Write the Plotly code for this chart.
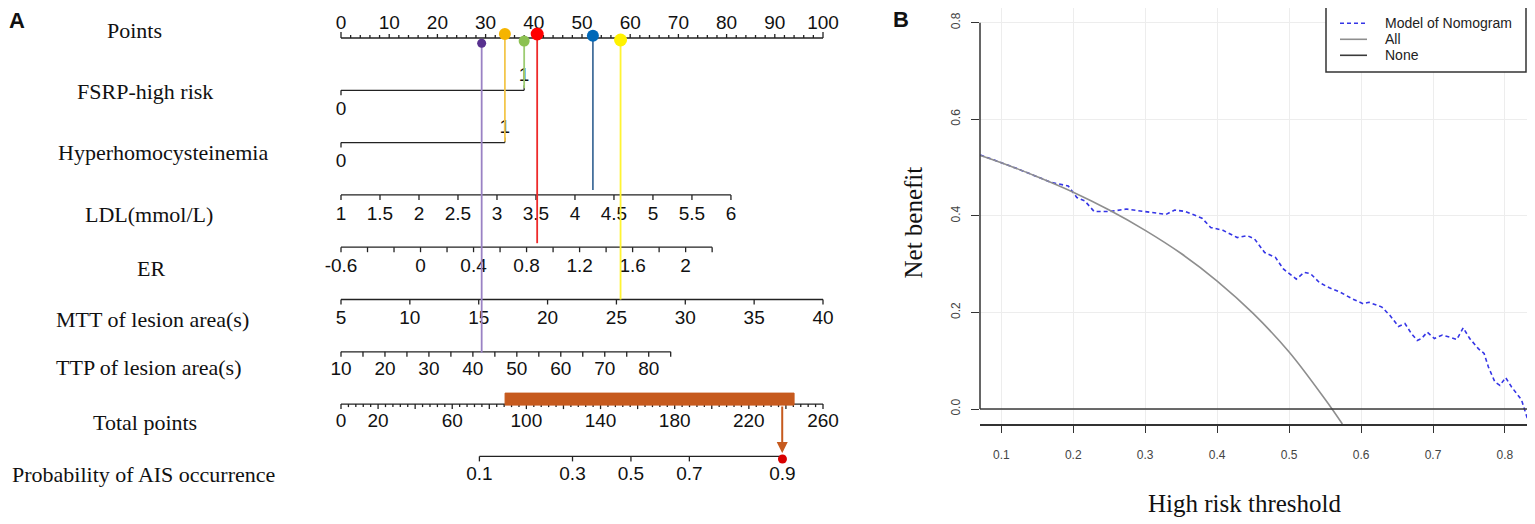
import numpy as np
import plotly.graph_objects as go

# ---------------- Panel A: nomogram ----------------
row_names = ["Points", "FSRP-high risk", "Hyperhomocysteinemia", "LDL(mmol/L)", "ER",
             "MTT of lesion area(s)", "TTP of lesion area(s)", "Total points",
             "Probability of AIS occurrence"]

points_labels = [0, 10, 20, 30, 40, 50, 60, 70, 80, 90, 100]

fsrp_levels = ["0", "1"]
fsrp_points = [0, 38]
hhcy_levels = ["0", "1"]
hhcy_points = [0, 34]

ldl_ticks = [1, 1.5, 2, 2.5, 3, 3.5, 4, 4.5, 5, 5.5, 6]
ldl_labels = ["1", "1.5", "2", "2.5", "3", "3.5", "4", "4.5", "5", "5.5", "6"]
ldl_points = [0, 80.9]          # points at LDL = 1 and 6

er_ticks = [-0.6, -0.4, -0.2, 0, 0.2, 0.4, 0.6, 0.8, 1.0, 1.2, 1.4, 1.6, 1.8, 2.0, 2.2]
er_labels = [-0.6, 0, 0.4, 0.8, 1.2, 1.6, 2]
er_points = [0, 77.0]           # points at ER = -0.6 and 2.2

mtt_ticks = [5, 10, 15, 20, 25, 30, 35, 40]
mtt_points = [0, 100]

ttp_ticks = [10, 15, 20, 25, 30, 35, 40, 45, 50, 55, 60, 65, 70, 75, 80, 85]
ttp_labels = [10, 20, 30, 40, 50, 60, 70, 80]
ttp_points = [0, 68.4]          # points at TTP = 10 and 85

total_labels = [0, 20, 60, 100, 140, 180, 220, 260]
total_max = 260

prob_ticks = [0.1, 0.3, 0.5, 0.7, 0.9]
prob_total_at_half = 156.4      # total points where p = 0.5
prob_total_per_logit = 37.2

# example patient drawn on the nomogram
case_fsrp = 1
case_hhcy = 1
case_ldl = 4.23
case_er = 0.88
case_mtt = 25.3
case_ttp = 42
case_total_range = [88.5, 244.4]
case_total = 238
case_prob = 0.9

# ---------------- Panel B: decision curve ----------------
thr_ticks = [0.1, 0.2, 0.3, 0.4, 0.5, 0.6, 0.7, 0.8]
nb_ticks = [0.0, 0.2, 0.4, 0.6, 0.8]

model_x = [0.071, 0.12, 0.170, 0.193, 0.205, 0.216, 0.229, 0.251, 0.274, 0.303, 0.329, 0.341,
           0.356, 0.379, 0.391, 0.408, 0.428, 0.442, 0.452, 0.466, 0.481, 0.492, 0.510, 0.521,
           0.530, 0.542, 0.556, 0.571, 0.588, 0.603, 0.611, 0.629, 0.640, 0.652, 0.661, 0.670,
           0.678, 0.684, 0.692, 0.702, 0.713, 0.725, 0.733, 0.742, 0.751, 0.763, 0.771, 0.777,
           0.786, 0.793, 0.801, 0.809, 0.818, 0.823, 0.831]
model_y = [0.526, 0.499, 0.469, 0.462, 0.438, 0.431, 0.409, 0.409, 0.414, 0.409, 0.403, 0.412,
           0.409, 0.395, 0.376, 0.370, 0.355, 0.359, 0.352, 0.324, 0.314, 0.290, 0.269, 0.283,
           0.280, 0.262, 0.251, 0.242, 0.228, 0.218, 0.221, 0.211, 0.194, 0.171, 0.177, 0.156,
           0.142, 0.146, 0.159, 0.146, 0.153, 0.148, 0.144, 0.168, 0.146, 0.125, 0.115, 0.087,
           0.056, 0.049, 0.065, 0.046, 0.029, 0.019, -0.019]

all_x = [0.071, 0.1, 0.15, 0.2, 0.25, 0.3, 0.35, 0.4, 0.45, 0.5, 0.55, 0.574]
all_y = [0.525, 0.510, 0.481, 0.449, 0.412, 0.370, 0.322, 0.265, 0.198, 0.118, 0.020, -0.031]

none_x = [0.05, 0.9]
none_y = [0, 0]

legend_names = ["Model of Nomogram", "All", "None"]

# page body adds an 8px margin, so the figure is 8px smaller and all
# positions below are given in window pixels and shifted by OFF
OFF = 8
W, H = 1535 - OFF, 524 - OFF
PX = 52.3                                    # pixels per nomogram row
PPT = 4.82                                   # pixels per nomogram point
NBPX = 482.9                                 # pixels per unit of net benefit
SANS = "Liberation Sans, Arial, sans-serif"
SERIF = "Liberation Serif, Times New Roman, serif"
AX = "#222222"
BROWN = "#C65A1E"
BLUE = "#3535E6"
GREY = "#8E8E8E"
DARK = "#3A3A3A"
X2_RANGE = [0.0704, 0.8348]
X2_PX = [980, 1530]
Y2_ZERO_PX = 409                             # window row of net benefit 0
Y2_PX = [8, 424]                             # window rows of panel B plot area


def pxx(X):
    return (X - OFF) / W


def pxy(Y):
    return 1 - (Y - OFF) / H


def dy(px):
    return px / PX


def nb_at(Y):
    return (Y2_ZERO_PX - Y) / NBPX


def lin(v, v0, v1, p0, p1):
    return p0 + (np.asarray(v, float) - v0) * (p1 - p0) / (v1 - v0)


def segs(x0, x1, row, ticks, lens):
    xs, ys = [x0, x1, None], [row, row, None]
    for t, L in zip(ticks, lens):
        xs += [float(t), float(t), None]
        ys += [row, row + dy(L), None]
    return xs, ys


fig = go.Figure()


def add_axis(xs, ys):
    fig.add_trace(go.Scatter(x=xs, y=ys, mode="lines", line=dict(color=AX, width=1.3),
                             hoverinfo="skip", showlegend=False, xaxis="x", yaxis="y"))


def add_labels(xs, row, texts, off):
    fig.add_trace(go.Scatter(x=list(xs), y=[row + dy(off)] * len(texts), mode="text",
                             text=[str(t) for t in texts], textposition="middle center",
                             textfont=dict(family=SANS, size=19, color="#111"),
                             hoverinfo="skip", showlegend=False, xaxis="x", yaxis="y"))


# row 0: points
pt_ticks = np.arange(0, 101, 2)
pt_lens = [-6 if t in (0, 100) else (-4 if t % 10 == 0 else -3) for t in pt_ticks]
add_axis(*segs(0, 100, 0, pt_ticks, pt_lens))
add_labels(points_labels, 0, points_labels, -14)

# rows 1-2: binary predictors
for row, pts, lev in [(1, fsrp_points, fsrp_levels), (2, hhcy_points, hhcy_levels)]:
    add_axis(*segs(pts[0], pts[1], row, pts, [5, -5]))
    add_labels([pts[0]], row, [lev[0]], 20)
    add_labels([pts[1]], row, [lev[1]], -14)

# row 3: LDL
ldl_x = lin(ldl_ticks, 1, 6, *ldl_points)
add_axis(*segs(ldl_x[0], ldl_x[-1], 3, ldl_x, [5] * len(ldl_x)))
add_labels(ldl_x, 3, ldl_labels, 20)

# row 4: ER
er_x = lin(er_ticks, -0.6, 2.2, *er_points)
add_axis(*segs(er_x[0], er_x[-1], 4, er_x, [5] * len(er_x)))
add_labels(lin(er_labels, -0.6, 2.2, *er_points), 4, [f"{v:g}" for v in er_labels], 20)

# row 5: MTT
mtt_x = lin(mtt_ticks, 5, 40, *mtt_points)
add_axis(*segs(mtt_x[0], mtt_x[-1], 5, mtt_x, [5] * len(mtt_x)))
add_labels(mtt_x, 5, mtt_ticks, 20)

# row 6: TTP
ttp_x = lin(ttp_ticks, 10, 85, *ttp_points)
add_axis(*segs(ttp_x[0], ttp_x[-1], 6, ttp_x, [5] * len(ttp_x)))
add_labels(lin(ttp_labels, 10, 85, *ttp_points), 6, ttp_labels, 18)

# row 7: total points
tot_ticks = np.arange(0, total_max + 1, 4)
tot_x = lin(tot_ticks, 0, total_max, 0, 100)
tot_lens = [5 if t % 20 == 0 else 3 for t in tot_ticks]
add_axis(*segs(0, 100, 7, tot_x, tot_lens))
add_labels(lin(total_labels, 0, total_max, 0, 100), 7, total_labels, 18)


# row 8: probability (logit scale of total points)
def prob_to_points(p):
    p = np.asarray(p, float)
    tot = prob_total_at_half + prob_total_per_logit * np.log(p / (1 - p))
    return lin(tot, 0, total_max, 0, 100)


pr_x = prob_to_points(prob_ticks)
add_axis(*segs(pr_x[0], pr_x[-1], 8, pr_x, [5] * len(pr_x)))
add_labels(pr_x, 8, [f"{p:g}" for p in prob_ticks], 19)

# highlighted range on total points
bx0, bx1 = lin(case_total_range, 0, total_max, 0, 100)
bt, bb = 7 + dy(-11), 7 + dy(1)
fig.add_trace(go.Scatter(x=[bx0, bx1, bx1, bx0, bx0], y=[bt, bt, bb, bb, bt], mode="lines",
                         fill="toself", fillcolor=BROWN, line=dict(color=BROWN, width=1),
                         hoverinfo="skip", showlegend=False, xaxis="x", yaxis="y"))

# patient markers: (points, variable row, dot colour, line colour, dot dy, line end dy, size)
case_marks = [
    (float(lin(case_ttp, 10, 85, *ttp_points)), 6, "#58318F", "#9A82C4", 5.3, 1, 9),
    (hhcy_points[case_hhcy], 2, "#F5B400", "#F3C64B", -4, -1, 12),
    (fsrp_points[case_fsrp], 1, "#8CC152", "#9DCC72", 3, -2, 11),
    (float(lin(case_er, -0.6, 2.2, *er_points)), 4, "#FF0000", "#EE2A2A", -4, -4, 13),
    (float(lin(case_ldl, 1, 6, *ldl_points)), 3, "#0068B8", "#46709C", -2.3, -5, 12),
    (float(lin(case_mtt, 5, 40, *mtt_points)), 5, "#FFF200", "#FFF433", 2, 0, 13),
]
for p, row, dc, lc, ddy, edy, sz in case_marks:
    fig.add_trace(go.Scatter(x=[p, p], y=[dy(ddy), row + dy(edy)], mode="lines",
                             line=dict(color=lc, width=1.8), hoverinfo="skip",
                             showlegend=False, xaxis="x", yaxis="y"))
for p, row, dc, lc, ddy, edy, sz in case_marks:
    fig.add_trace(go.Scatter(x=[p], y=[dy(ddy)], mode="markers",
                             marker=dict(color=dc, size=sz), hoverinfo="skip",
                             showlegend=False, xaxis="x", yaxis="y"))

# predicted probability dot
cp = float(prob_to_points(case_prob))
fig.add_trace(go.Scatter(x=[cp], y=[8 + dy(2.6)], mode="markers",
                         marker=dict(color="#D90000", size=9), hoverinfo="skip",
                         showlegend=False, xaxis="x", yaxis="y"))
ct = float(lin(case_total, 0, total_max, 0, 100))

# ---------------- Panel B traces ----------------
fig.add_trace(go.Scatter(x=model_x, y=model_y, mode="lines", name=legend_names[0],
                         line=dict(color=BLUE, width=1.6, dash="4px,3px"),
                         showlegend=False, xaxis="x2", yaxis="y2"))
fig.add_trace(go.Scatter(x=all_x, y=all_y, mode="lines", name=legend_names[1],
                         line=dict(color=GREY, width=1.6, shape="spline"),
                         showlegend=False, xaxis="x2", yaxis="y2"))
fig.add_trace(go.Scatter(x=none_x, y=none_y, mode="lines", name=legend_names[2],
                         line=dict(color=DARK, width=1.6), showlegend=False,
                         xaxis="x2", yaxis="y2"))

# ---------------- annotations ----------------
ann = []
label_px = [(134, 31), (145, 91), (163, 152), (149, 214), (151, 268),
            (152, 319), (149, 367), (145, 422), (143, 474)]
for name, (lx, ly) in zip(row_names, label_px):
    ann.append(dict(x=pxx(lx), y=pxy(ly), xref="paper", yref="paper", text=name,
                    showarrow=False, xanchor="center", yanchor="middle",
                    font=dict(family=SERIF, size=22, color="#111")))

ann.append(dict(x=ct, y=8 + dy(-3.4), ax=ct, ay=7 + dy(1), xref="x", yref="y",
                axref="x", ayref="y", text="", showarrow=True, arrowhead=2,
                arrowsize=1.1, arrowwidth=2, arrowcolor=BROWN))

for txt, X, Y, fam, size, ang in [("<b>A</b>", 16.5, 20, SANS, 22, 0),
                                  ("<b>B</b>", 901, 19, SANS, 22, 0),
                                  ("High risk threshold", 1244.5, 503, SERIF, 25, 0),
                                  ("Net benefit", 913, 222.5, SERIF, 25, -90)]:
    ann.append(dict(x=pxx(X), y=pxy(Y), xref="paper", yref="paper", text=txt,
                    showarrow=False, xanchor="center", yanchor="middle", textangle=ang,
                    font=dict(family=fam, size=size, color="#111")))

shapes = [
    dict(type="line", xref="x2 domain", yref="y2", x0=0, x1=0, y0=nb_ticks[0],
         y1=nb_ticks[-1], line=dict(color="#333", width=1.5)),
    # legend box
    dict(type="rect", xref="paper", yref="paper", x0=pxx(1326), x1=pxx(1526),
         y0=pxy(72), y1=pxy(7), fillcolor="white", layer="above",
         line=dict(color="#333", width=1.5)),
]
legend_styles = [(BLUE, "4px,3px"), (GREY, "solid"), (DARK, "solid")]
for i, (name, (col, dash)) in enumerate(zip(legend_names, legend_styles)):
    yy = 23.3 + 16 * i
    shapes.append(dict(type="line", xref="paper", yref="paper", x0=pxx(1340), x1=pxx(1367),
                       y0=pxy(yy), y1=pxy(yy), layer="above",
                       line=dict(color=col, width=1.6, dash=dash)))
    ann.append(dict(x=pxx(1383), y=pxy(yy), xref="paper", yref="paper", text=name,
                    showarrow=False, xanchor="left", yanchor="middle",
                    font=dict(family=SANS, size=14, color="#222")))

fig.update_layout(
    width=W, height=H,
    margin=dict(l=0, r=0, t=0, b=0),
    paper_bgcolor="white", plot_bgcolor="white",
    showlegend=False,
    xaxis=dict(domain=[0, (875 - OFF) / W], range=[-(341 - OFF) / PPT, (875 - 341) / PPT],
               visible=False),
    yaxis=dict(domain=[0, 1], range=[(H - (38 - OFF)) / PX, -(38 - OFF) / PX], visible=False),
    # x axis of panel B drawn by plotly itself along the bottom of the plot area
    xaxis2=dict(domain=[pxx(X2_PX[0]), pxx(X2_PX[1])], range=X2_RANGE, anchor="y2",
                tickvals=thr_ticks, ticktext=[f"{v:.1f}" for v in thr_ticks],
                ticks="outside", ticklen=7, tickwidth=1.4, tickcolor="#333",
                showline=True, linecolor="#333", linewidth=1.5,
                showgrid=True, gridcolor="#EDEDED", gridwidth=1,
                zeroline=False, ticklabelstandoff=12,
                tickfont=dict(family=SANS, size=12, color="#444")),
    yaxis2=dict(domain=[pxy(Y2_PX[1]), pxy(Y2_PX[0])], range=[nb_at(Y2_PX[1]), nb_at(Y2_PX[0])],
                anchor="x2",
                tickvals=nb_ticks, ticktext=[f"{v:.1f}" for v in nb_ticks],
                tickangle=-90, ticks="outside", ticklen=8, tickwidth=1.3,
                tickcolor="#333", showline=False, showgrid=True, gridcolor="#EDEDED",
                gridwidth=1, zeroline=False, ticklabelstandoff=6,
                tickfont=dict(family=SANS, size=12, color="#444")),
    annotations=ann,
    shapes=shapes,
)

fig.write_html("out.html")
